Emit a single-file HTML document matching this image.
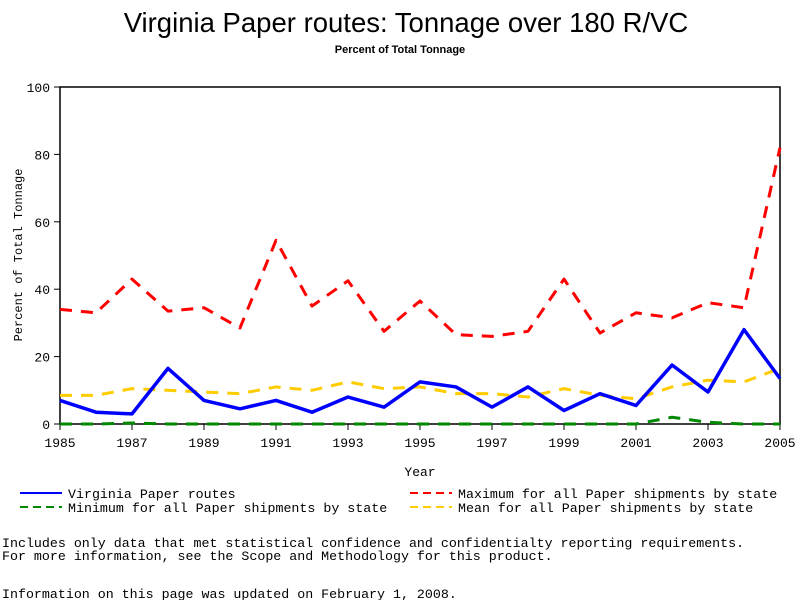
<!DOCTYPE html>
<html><head><meta charset="utf-8"><style>
body{margin:0;background:#fff;}
svg text{font-family:"Liberation Mono",monospace;}
</style></head><body>
<svg width="800" height="600" xmlns="http://www.w3.org/2000/svg" id="chart">
<text x="406" y="32" text-anchor="middle" font-size="27.5" style="font-family:'Liberation Sans',sans-serif">Virginia Paper routes: Tonnage over 180 R/VC</text>
<text x="400" y="53" text-anchor="middle" font-size="11" font-weight="bold" style="font-family:'Liberation Sans',sans-serif">Percent of Total Tonnage</text>
<rect x="60" y="87" width="720" height="337" fill="none" stroke="#000" stroke-width="1.5"/>
<g id="axes"></g>
<g id="series"></g>
<text x="420" y="476" text-anchor="middle" font-size="13">Year</text>
<text transform="translate(22,255) rotate(-90)" text-anchor="middle" font-size="12">Percent of Total Tonnage</text>
<g font-size="13.3">
<line x1="20" y1="493" x2="62" y2="493" stroke="#00f" stroke-width="2"/><text x="68" y="498">Virginia Paper routes</text>
<line x1="410" y1="493" x2="452" y2="493" stroke="#f00" stroke-width="2" stroke-dasharray="8,5"/><text x="458" y="498">Maximum for all Paper shipments by state</text>
<line x1="20" y1="507" x2="62" y2="507" stroke="#080" stroke-width="2" stroke-dasharray="8,5"/><text x="68" y="512">Minimum for all Paper shipments by state</text>
<line x1="410" y1="507" x2="452" y2="507" stroke="#fc0" stroke-width="2" stroke-dasharray="8,5"/><text x="458" y="512">Mean for all Paper shipments by state</text>
</g>
<g font-size="13.3">
<text x="2" y="547">Includes only data that met statistical confidence and confidentialty reporting requirements.</text>
<text x="2" y="560">For more information, see the Scope and Methodology for this product.</text>
<text x="2" y="598">Information on this page was updated on February 1, 2008.</text>
</g>
</svg>
<script>
const years=[1985,1986,1987,1988,1989,1990,1991,1992,1993,1994,1995,1996,1997,1998,1999,2000,2001,2002,2003,2004,2005];
const virginia=[7,3.5,3,16.5,7,4.5,7,3.5,8,5,12.5,11,5,11,4,9,5.5,17.5,9.5,28,13.5];
const maximum=[34,33,43,33.5,34.5,28.5,54.5,35,42.5,27.5,36.5,26.5,26,27.5,43,27,33,31.5,36,34.5,82];
const minimum=[0,0,0.3,0,0,0,0,0,0,0,0,0,0,0,0,0,0,2,0.5,0,0];
const mean=[8.5,8.5,10.5,10,9.5,9,11,10,12.5,10.5,11,9,9,8,10.5,8.5,7.5,11,13,12.5,16.5];
const yTicks=[0,20,40,60,80,100];
const xTicks=[1985,1987,1989,1991,1993,1995,1997,1999,2001,2003,2005];
const NS='http://www.w3.org/2000/svg';
const X=y=>60+(y-1985)*720/20;
const Y=v=>424-v*337/100;
const ax=document.getElementById('axes'),se=document.getElementById('series');
function mk(tag,at,parent){const e=document.createElementNS(NS,tag);for(const k in at)e.setAttribute(k,at[k]);parent.appendChild(e);return e;}
yTicks.forEach(t=>{
 const l=mk('line',{x1:54,x2:60,y1:Y(t),y2:Y(t),stroke:'#000'},ax);
 
 
 const tx=mk('text',{x:50,y:Y(t)+5,'text-anchor':'end','font-size':13},ax);tx.textContent=t;
 
 
});
xTicks.forEach(t=>{
 const l=mk('line',{x1:X(t),x2:X(t),y1:424,y2:430,stroke:'#000'},ax);
 
 
 const tx=mk('text',{x:X(t),y:447,'text-anchor':'middle','font-size':13},ax);tx.textContent=t;
 
 
});
function line(vals,color,w,dash,name){
 const p=mk('polyline',{points:vals.map((v,i)=>X(years[i])+','+Y(v)).join(' '),fill:'none',stroke:color,'stroke-width':w,'stroke-linejoin':'round'},se);
 if(dash)p.setAttribute('stroke-dasharray',dash);
 
 
}
line(minimum,'#080',3,'12,9','minimum-line');
line(mean,'#fc0',3,'12,9','mean-line');
line(maximum,'#f00',3,'12,9','maximum-line');
line(virginia,'#00f',3.5,null,'virginia-line');
</script>
</body></html>
